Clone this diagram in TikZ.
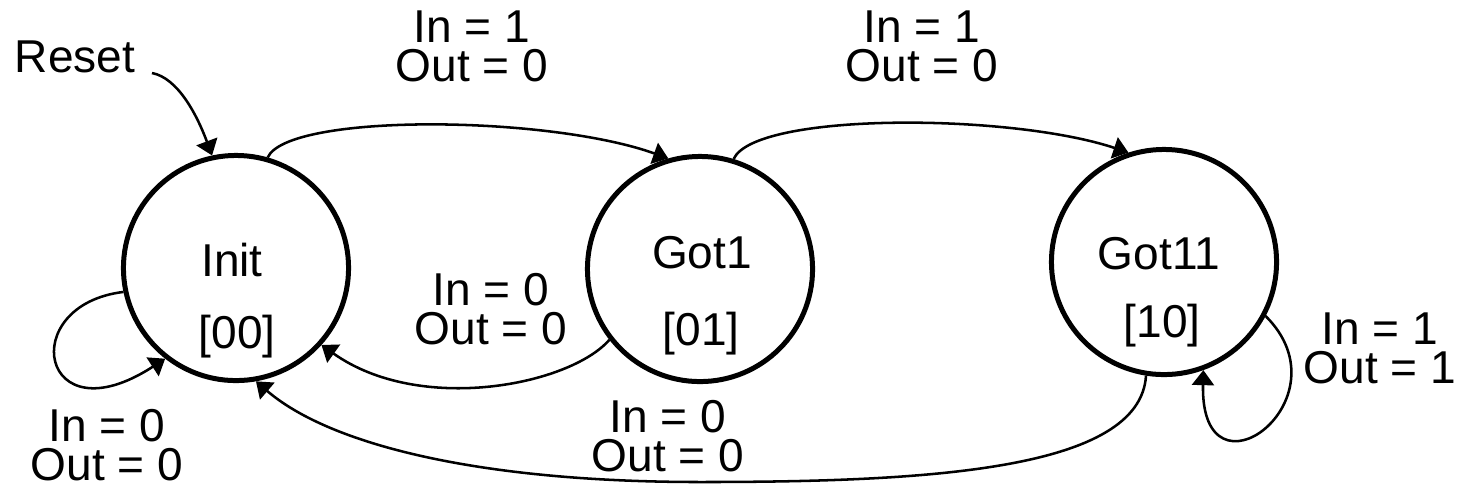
\documentclass[tikz,border=0pt]{standalone}
\usepackage{fontspec}
\setmainfont{Liberation Sans}
\usetikzlibrary{arrows.meta}
\tikzset{
  state/.style={circle, draw, line width=1.42pt, minimum size=2.25cm, inner sep=0pt},
  txt/.style={font=\fontsize{13.1}{11.05}\selectfont, inner sep=0pt},
  lbl/.style={font=\fontsize{13.1}{11.05}\selectfont, inner sep=0pt, align=center},
  conn/.style={line width=0.72pt, -{Triangle[length=0.15cm, width=0.22cm]}},
}
\begin{document}
\begin{tikzpicture}[x=0.01cm, y=-0.01cm]
\useasboundingbox (0,0) rectangle (1461,487);
% states
\node[state] (init)  at (236,268) {};
\node[state] (got1)  at (700,269) {};
\node[state] (got11) at (1164,262) {};
\node[txt, anchor=base] (initname)  at (232,276) {Init};
\node[txt, anchor=base] (initcode)  at (237,348) {[00]};
\node[txt, anchor=base] (got1name)  at (702,268) {Got1};
\node[txt, anchor=base] (got1code)  at (701,345) {[01]};
\node[txt, anchor=base] (got11name) at (1159,269) {Got11};
\node[txt, anchor=base] (got11code) at (1162,337) {[10]};
% reset
\node[txt, anchor=base] (reset) at (75,72) {Reset};
\coordinate (rs) at (152,73);
\draw[conn] (rs) .. controls (178,78) and (197,115) .. (init.102);
% transitions
\draw[conn] (init.74) .. controls (288,113) and (547,115) .. (got1.106);
\draw[conn] (got1.73) .. controls (755,112) and (1010,113) .. (got11.108);
\draw[conn] (got1.218) .. controls (570,385) and (420,415) .. (init.318);
\draw[conn] (got11.261) .. controls (1140,470) and (930,482) .. (700,482)
            .. controls (480,482) and (330,445) .. (init.280);
\draw[conn] (init.192) .. controls (15,305) and (40,440) .. (init.232);
\draw[conn] (got11.332) .. controls (1350,400) and (1200,510) .. (got11.290);
% labels
\node[lbl] (l1) at (472,46) {In = 1\\Out = 0};
\node[lbl] (l2) at (922,46) {In = 1\\Out = 0};
\node[lbl] (l3) at (491,309.5) {In = 0\\Out = 0};
\node[lbl] (l4) at (668,436.5) {In = 0\\Out = 0};
\node[lbl] (l5) at (107,445.5) {In = 0\\Out = 0};
\node[lbl] (l6) at (1380,348.5) {In = 1\\Out = 1};
\end{tikzpicture}
\end{document}
